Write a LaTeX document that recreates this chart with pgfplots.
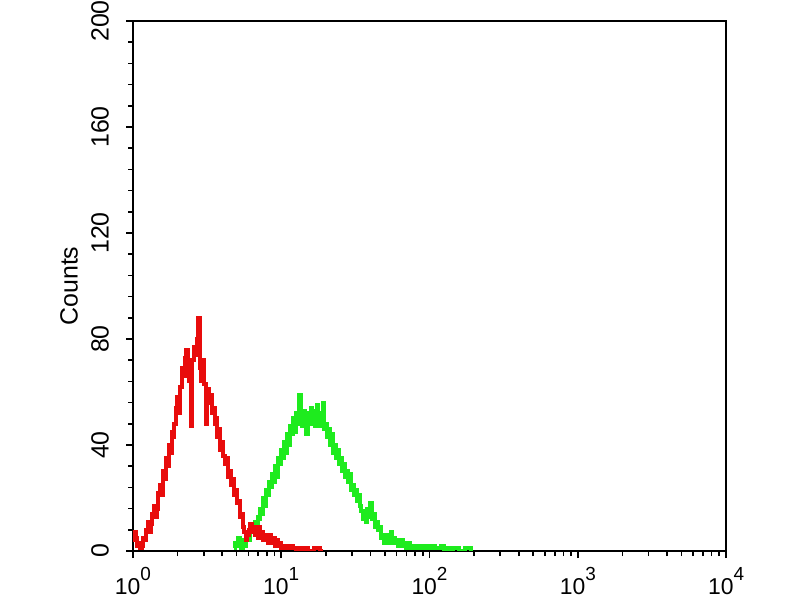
\documentclass[border=0pt]{standalone}
\usepackage{pgfplots}
\pgfplotsset{compat=1.18}
\usepackage{fontspec}
\setmainfont{Liberation Sans}
\definecolor{histred}{RGB}{232,12,12}
\definecolor{histgreen}{RGB}{30,235,30}
\newcommand{\dec}[1]{10\raisebox{0.62em}{\fontsize{9.5}{10}\selectfont #1}}
\begin{document}
\begin{tikzpicture}
\useasboundingbox (-66.5bp,-24.5bp) rectangle (333.5bp,275.5bp);
\begin{axis}[
  at={(0,0)}, anchor=south west,
  scale only axis,
  width=296.5bp, height=265bp,
  xmode=log,
  xmin=1, xmax=10000,
  ymin=0, ymax=200,
  xtick={1,10,100,1000,10000},
  xticklabels={\dec{0},\dec{1},\dec{2},\dec{3},\dec{4}},
  ytick={0,40,80,120,160,200},
  minor y tick num=4,
  tick align=outside,
  xtick pos=left, ytick pos=left,
  major tick length=3.5bp, minor tick length=2.5bp,
  every tick/.style={black, line width=0.8bp},
  axis line style={line width=0.9bp},
  /pgf/number format/assume math mode=true,
  yticklabel style={rotate=90, anchor=south, font=\fontsize{12.5}{13}\selectfont},
  xticklabel style={font=\fontsize{11.5}{12}\selectfont},
  yticklabel shift=5bp,
  xticklabel shift=1bp,
  ylabel={Counts},
  ylabel style={font=\fontsize{12.5}{13}\selectfont, at={(axis description cs:0,0.5)}, anchor=south, yshift=24bp},
  clip=true,
]
% green histogram (stained)
\addplot[const plot, color=histgreen, line width=2bp] coordinates {
(4.786,1)(4.898,3)(5.012,2)(5.129,5)(5.248,3)(5.370,1)(5.495,4)(5.623,2)(5.754,5)(5.888,7)
(6.026,4)(6.166,8)(6.310,10)(6.457,7)(6.607,11)(6.761,9)(6.918,13)(7.079,12)(7.244,16)(7.413,14)
(7.586,20)(7.762,17)(7.943,23)(8.128,21)(8.318,26)(8.511,24)(8.710,29)(8.913,26)(9.120,32)(9.333,28)
(9.550,35)(9.772,33)(10.00,38)(10.23,35)(10.47,41)(10.72,37)(10.96,44)(11.22,40)(11.48,47)(11.75,44)
(12.02,50)(12.30,45)(12.59,52)(12.88,48)(13.18,59)(13.49,51)(13.80,47)(14.13,53)(14.45,49)(14.79,44)
(15.14,52)(15.49,48)(15.85,54)(16.22,50)(16.60,53)(16.98,47)(17.38,55)(17.78,50)(18.20,52)(18.62,47)
(19.05,56)(19.50,46)(19.95,48)(20.42,43)(20.89,46)(21.38,40)(21.88,44)(22.39,37)(22.91,40)(23.44,35)
(23.99,38)(24.55,33)(25.12,35)(25.70,30)(26.30,33)(26.92,28)(27.54,30)(28.18,26)(28.84,29)(29.51,23)
(30.20,25)(30.90,21)(31.62,23)(32.36,19)(33.11,21)(33.88,17)(34.67,15)(35.48,12)(36.31,14)(37.15,11)
(38.02,16)(38.90,13)(39.81,18)(40.74,12)(41.69,14)(42.66,9)(43.65,11)(44.67,8)(45.71,9)(46.77,5)
(47.86,6)(48.98,3)(50.12,5)(51.29,4)(52.48,6)(53.70,3)(54.95,7)(56.23,4)(57.54,5)(58.88,3)
(60.26,4)(61.66,2)(63.10,3)(64.57,4)(66.07,2)(67.61,3)(69.18,1)(70.79,2)(72.44,3)(74.13,1)
(75.86,2)(77.62,1)(79.43,2)(83.18,1)(87.10,2)(91.20,1)(95.50,2)(100.0,1)(104.7,2)(109.6,1)
(114.8,1)(120.2,2)(125.9,0)(131.8,1)(138.0,0)(144.5,1)(158.5,0)(173.8,1)(190.5,0)
};
% red histogram (control)
\addplot[const plot, color=histred, line width=2bp] coordinates {
(1.000,4)(1.023,7)(1.047,5)(1.072,2)(1.096,3)(1.122,1)(1.148,2)(1.175,5)(1.202,4)(1.230,8)
(1.259,11)(1.288,7)(1.318,10)(1.349,14)(1.380,17)(1.413,13)(1.445,16)(1.479,22)(1.514,25)(1.549,21)
(1.585,30)(1.622,27)(1.660,35)(1.698,32)(1.738,40)(1.778,37)(1.820,45)(1.862,43)(1.905,48)(1.950,54)
(1.995,58)(2.042,52)(2.089,62)(2.138,69)(2.188,66)(2.239,73)(2.291,76)(2.344,70)(2.399,64)(2.455,47)
(2.512,72)(2.570,77)(2.630,74)(2.692,80)(2.754,88)(2.818,69)(2.884,64)(2.951,72)(3.020,63)(3.090,48)
(3.162,61)(3.236,56)(3.311,59)(3.388,52)(3.467,54)(3.548,48)(3.631,50)(3.715,43)(3.802,46)(3.890,38)
(3.981,41)(4.074,36)(4.169,33)(4.266,35)(4.365,28)(4.467,30)(4.571,25)(4.677,27)(4.786,21)(4.898,23)
(5.012,18)(5.129,19)(5.248,13)(5.370,14)(5.495,9)(5.623,7)(5.754,4)(5.888,6)(6.026,8)(6.166,10)
(6.310,7)(6.457,9)(6.607,6)(6.761,8)(6.918,5)(7.079,9)(7.244,6)(7.413,7)(7.586,4)(7.762,6)
(7.943,5)(8.128,3)(8.318,6)(8.511,4)(8.710,3)(8.913,5)(9.120,2)(9.333,4)(9.550,2)(9.772,3)
(10.00,1)(10.47,2)(10.96,1)(11.48,2)(12.02,1)(12.59,0)(13.18,1)(13.80,0)(14.45,1)(15.14,0)
(16.60,1)(18.20,0)(19.05,0)
};
\end{axis}
\end{tikzpicture}
\end{document}
